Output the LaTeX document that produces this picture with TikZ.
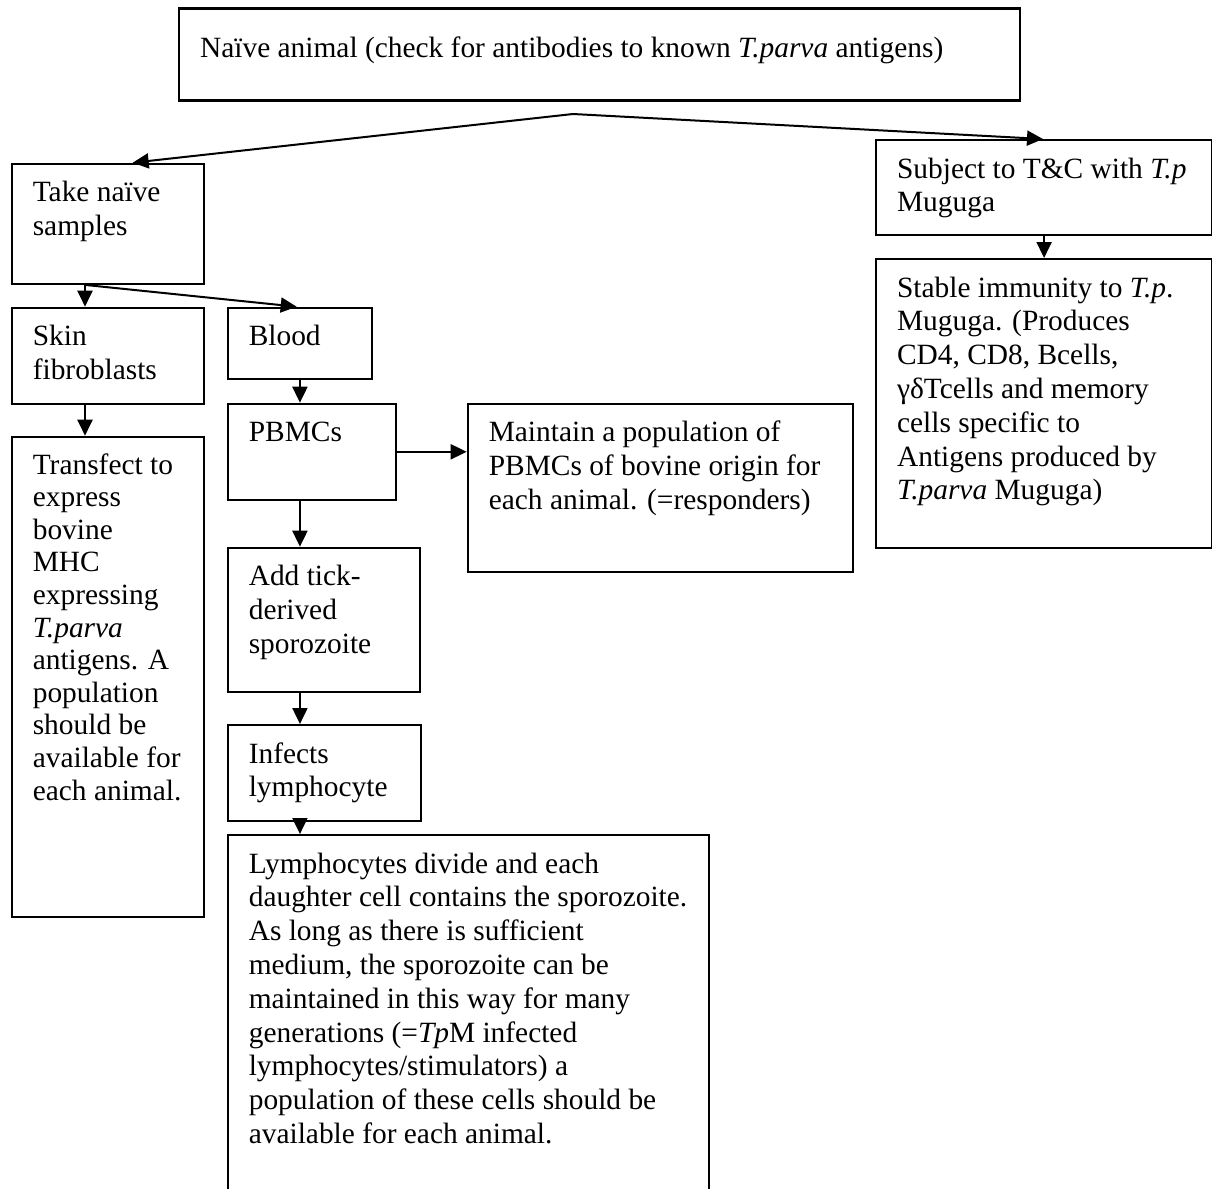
\documentclass[tikz,border=0pt]{standalone}
\usepackage{fontspec}
\setmainfont{Liberation Serif}
\usetikzlibrary{arrows.meta,calc}
\tikzset{
	box/.style={draw, line width=1.1pt, anchor=north west, inner xsep=10.5pt, inner ysep=7.2pt, font=\fontsize{14.7}{16.9}\selectfont},
	arr/.style={line width=1pt, -{Triangle[length=8pt,width=7.5pt]}}
}
% width and height of a box in px, then its lines
\newcommand\boxtext[3]{\parbox[t][\dimexpr #2pt/2-14.4pt\relax][t]{\dimexpr #1pt/2-14pt\relax}{\raggedright\strut #3}\kern-7pt}

\begin{document}
\begin{tikzpicture}[x=0.5pt, y=-0.5pt]
			%%%%% START %%%%%
			
			\useasboundingbox (0, 0) rectangle (1212, 1189);
			\clip (0, 0) rectangle (1212, 1189);
			
			\node[box, inner ysep=12.85pt] (naive) at (178, 7.3) {\parbox[t][20.3pt][t]{399.5pt}{\strut Naïve animal (check for antibodies to known \textit{T.parva} antigens)}};
			
			\node[box] (take) at (10.7, 162.7) {\boxtext{192.3}{120}{Take naïve\\samples}};
			\node[box] (skin) at (10.7, 306.7) {\boxtext{192.3}{96.3}{Skin\\fibroblasts}};
			\node[box, font=\fontsize{14.7}{16.3}\selectfont] (transfect) at (10.7, 435.7) {\boxtext{192.3}{480.3}{Transfect to\\express\\bovine\\MHC\\expressing\\\textit{T.parva}\\antigens. A\\population\\should be\\available for\\each animal.}};
			
			\node[box] (blood) at (226.7, 306.7) {\boxtext{144.3}{71.3}{Blood}};
			\node[box] (pbmc) at (226.7, 402.7) {\boxtext{168.3}{96}{PBMCs}};
			\node[box] (maintain) at (466.7, 402.7) {\boxtext{385}{168}{Maintain a population of\\PBMCs of bovine origin for\\each animal. (=responders)}};
			\node[box] (addtick) at (226.7, 546.7) {\boxtext{192.3}{144}{Add tick-\\derived\\sporozoite}};
			\node[box] (infects) at (226.7, 724) {\boxtext{193.3}{96}{Infects\\lymphocyte}};
			\node[box] (lymph) at (226.7, 834) {\boxtext{481}{366}{Lymphocytes divide and each\\daughter cell contains the sporozoite.\\As long as there is sufficient\\medium, the sporozoite can be\\maintained in this way for many\\generations (=\textit{Tp}M infected\\lymphocytes/stimulators) a\\population of these cells should be\\available for each animal.}};
			
			\node[box] (subject) at (875, 139) {\boxtext{336}{95}{Subject to T\&C with \textit{T.p}\\Muguga}};
			\node[box] (stable) at (875, 258) {\boxtext{336}{289}{Stable immunity to \textit{T.p}.\\Muguga. (Produces\\CD4, CD8, Bcells,\\γδTcells and memory\\cells specific to\\Antigens produced by\\\textit{T.parva} Muguga)}};
			
			\coordinate (split) at (573, 114);
			\coordinate (fork) at ($(take.south west)+(74.3, 0)$);
			
			\draw[arr] (split) -- ($(take.north west)+(122, 0)$);
			\draw[arr] (split) -- ($(subject.north west)+(168, 0)$);
			\draw[arr] (subject.south) -- (stable.north);
			
			\draw[arr] (fork) -- (fork |- skin.north);
			\draw[arr] (fork |- skin.south) -- (fork |- transfect.north);
			\draw[arr] (fork) -- ($(blood.north west)+(70, 0)$);
			
			\draw[arr] (blood.south) -- (blood.south |- pbmc.north);
			\draw[arr] (pbmc.east) -- (pbmc.east -| maintain.west);
			\draw[arr] (blood.south |- pbmc.south) -- (blood.south |- addtick.north);
			\draw[arr] (blood.south |- addtick.south) -- (blood.south |- infects.north);
			\draw[arr] (blood.south |- infects.south) -- (blood.south |- lymph.north);
			
			%%%%% END %%%%%
\end{tikzpicture}
\end{document}
